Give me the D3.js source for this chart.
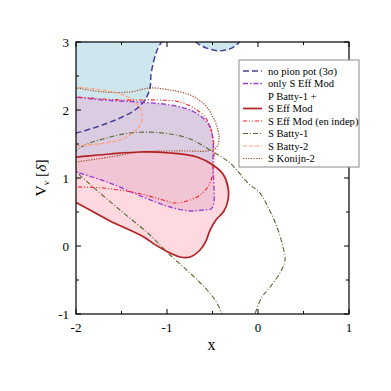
<!DOCTYPE html>
<html>
<head>
<meta charset="utf-8">
<script src="https://cdn.jsdelivr.net/npm/d3@7"></script>
<style>
  body { margin: 0; background: #fff; }
  text { font-family: "Liberation Serif", "DejaVu Serif", serif; }
</style>
</head>
<body>
<script>
// contour data, [x, Vv]
var noPion = [[-2.1,1.64],[-2.0,1.662],[-1.846,1.72],[-1.681,1.794],[-1.516,1.882],[-1.352,2.0],[-1.242,2.147],
  [-1.187,2.324],[-1.176,2.515],[-1.143,2.735],[-1.099,2.912],[-1.044,3.03],[-1.0,3.12]];
var noPionTop = [[-0.74,3.12],[-0.692,3.01],[-0.564,2.91],[-0.418,2.87],[-0.289,2.91],[-0.198,3.01],[-0.16,3.12]];
var onlyS = [[-2.1,2.2],[-2.0,2.19],[-1.703,2.147],[-1.33,2.118],[-0.967,2.074],[-0.747,2.0],[-0.604,1.882],
  [-0.527,1.75],[-0.495,1.559],[-0.495,1.162],[-0.487,0.971],[-0.487,0.62],[-0.516,0.544],[-0.604,0.529],
  [-0.747,0.515],[-0.967,0.574],[-1.264,0.721],[-1.626,0.926],[-1.989,1.088],[-2.1,1.15]];
var sEff = [[-2.1,1.3],[-1.989,1.309],[-1.626,1.353],[-1.297,1.382],[-0.967,1.368],[-0.67,1.309],[-0.495,1.191],
  [-0.385,1.059],[-0.33,0.868],[-0.33,0.676],[-0.374,0.515],[-0.462,0.382],[-0.527,0.235],[-0.571,0.074],
  [-0.637,-0.059],[-0.747,-0.162],[-0.857,-0.162],[-0.967,-0.103],[-1.132,0.02],[-1.264,0.14],[-1.626,0.368],
  [-1.989,0.632],[-2.1,0.7]];
var sEffEn = [[-2.1,2.2],[-1.989,2.19],[-1.484,2.147],[-1.11,2.147],[-0.857,2.118],[-0.67,2.0],[-0.56,1.853],
  [-0.495,1.603],[-0.484,1.265],[-0.505,1.015],[-0.56,0.853],[-0.67,0.721],[-0.824,0.647],[-0.912,0.632],
  [-1.044,0.676],[-1.33,0.779],[-1.703,0.853],[-1.989,0.868],[-2.1,0.87]];
var batty1 = [[-0.38,-1.05],[-0.396,-1.0],[-0.451,-0.838],[-0.56,-0.647],[-0.747,-0.397],[-0.967,-0.132],
  [-1.187,0.162],[-1.516,0.529],[-1.813,0.868],[-1.989,1.088],[-2.07,1.25],[-1.989,1.412],[-1.846,1.515],
  [-1.703,1.574],[-1.407,1.662],[-1.044,1.662],[-0.747,1.574],[-0.527,1.412],[-0.308,1.221],[-0.11,0.926],
  [0.022,0.779],[0.11,0.574],[0.209,0.279],[0.275,-0.015],[0.297,-0.206],[0.242,-0.397],[0.132,-0.603],
  [0.044,-0.75],[-0.033,-1.0],[-0.04,-1.05]];
var batty2 = [[-2.1,2.35],[-2.0,2.338],[-1.791,2.309],[-1.549,2.25],[-1.374,2.147],[-1.286,2.0],[-1.275,1.853],
  [-1.319,1.735],[-1.462,1.588],[-1.681,1.515],[-2.0,1.471],[-2.1,1.46]];
var konijn2 = [[-2.1,2.33],[-2.0,2.324],[-1.703,2.265],[-1.407,2.265],[-1.187,2.324],[-0.967,2.294],[-0.747,2.221],
  [-0.582,2.074],[-0.495,1.897],[-0.44,1.706],[-0.429,1.559],[-0.462,1.441],[-0.56,1.397],[-0.747,1.397],
  [-0.967,1.397],[-1.297,1.382],[-1.626,1.309],[-2.0,1.235],[-2.1,1.22]];

var xMajor = [-2, -1, 0, 1];
var yMajor = [-1, 0, 1, 2, 3];
var legendLabels = ["no pion pot (3\u03c3)", "only S Eff Mod", "P Batty-1 +", "S Eff Mod",
  "S Eff Mod (en indep)", "S Batty-1", "S Batty-2", "S Konijn-2"];

var W = 391, H = 391;
var m = {l: 76, t: 42, r: 42, b: 77};
var w = W - m.l - m.r, h = H - m.t - m.b;

var svg = d3.select("body").append("svg").attr("width", W).attr("height", H);

var x = d3.scaleLinear().domain([-2, 1]).range([0, w]);
var y = d3.scaleLinear().domain([-1, 3]).range([h, 0]);

svg.append("defs").append("clipPath").attr("id", "clip")
  .append("rect").attr("width", w).attr("height", h);

var g = svg.append("g").attr("transform", "translate(" + m.l + "," + m.t + ")");
var plot = g.append("g").attr("clip-path", "url(#clip)");

var line = d3.line().x(function(d){ return x(d[0]); }).y(function(d){ return y(d[1]); })
  .curve(d3.curveCatmullRom.alpha(0.5));

// fills
plot.append("path")
  .attr("d", line(noPion) + "L" + x(-2.2) + "," + y(3.2) + "L" + x(-2.2) + "," + y(1.6) + "Z")
  .style("fill", "#cee7ee");
plot.append("path").attr("d", line(noPionTop) + "Z").style("fill", "#cee7ee");
plot.append("path").attr("d", line(onlyS) + "Z").style("fill", "#dccce2");
plot.append("path").attr("d", line(sEff) + "Z").style("fill", "#ffc0cb").style("opacity", 0.6);

// contour lines
var styles = {
  noPion: {c: "#45409a", dash: "6,3", w: 1.5},
  onlyS: {c: "#9b3fd6", dash: "5,2,1.5,2", w: 1.4},
  sEff: {c: "#b22222", dash: null, w: 1.7},
  sEffEn: {c: "#ff1a1a", dash: "4,2,1,2,1,2", w: 1.1},
  batty1: {c: "#556b2f", dash: "5,2,1,2", w: 1.1},
  batty2: {c: "#ffa07a", dash: "4,2", w: 1.2},
  konijn2: {c: "#a0522d", dash: "1.3,1.3", w: 1.2}
};
function stroke(sel, s) {
  sel.style("fill", "none").style("stroke", s.c).style("stroke-width", s.w)
    .style("stroke-dasharray", s.dash);
}
plot.append("path").attr("d", line(batty1)).call(stroke, styles.batty1);
plot.append("path").attr("d", line(konijn2)).call(stroke, styles.konijn2);
plot.append("path").attr("d", line(batty2)).call(stroke, styles.batty2);
plot.append("path").attr("d", line(noPion)).call(stroke, styles.noPion);
plot.append("path").attr("d", line(noPionTop)).call(stroke, styles.noPion);
plot.append("path").attr("d", line(onlyS)).call(stroke, styles.onlyS);
plot.append("path").attr("d", line(sEffEn)).call(stroke, styles.sEffEn);
plot.append("path").attr("d", line(sEff)).call(stroke, styles.sEff);

// frame and ticks
g.append("rect").attr("width", w).attr("height", h)
  .style("fill", "none").style("stroke", "#000").style("stroke-width", 1.2);

var xMinor = d3.range(-1.5, 1, 1), yMinor = d3.range(-0.5, 3, 1);
function ticksX(vals, len) {
  vals.forEach(function(v){
    g.append("line").attr("x1", x(v)).attr("x2", x(v)).attr("y1", h).attr("y2", h - len).style("stroke", "#000");
    g.append("line").attr("x1", x(v)).attr("x2", x(v)).attr("y1", 0).attr("y2", len).style("stroke", "#000");
  });
}
function ticksY(vals, len) {
  vals.forEach(function(v){
    g.append("line").attr("x1", 0).attr("x2", len).attr("y1", y(v)).attr("y2", y(v)).style("stroke", "#000");
    g.append("line").attr("x1", w).attr("x2", w - len).attr("y1", y(v)).attr("y2", y(v)).style("stroke", "#000");
  });
}
ticksX(xMajor, 5); ticksX(xMinor, 3);
ticksY(yMajor, 5); ticksY(yMinor, 3);

g.selectAll(".xl").data(xMajor).enter().append("text")
  .attr("x", function(d){ return x(d); }).attr("y", h + 18)
  .attr("text-anchor", "middle").style("font-size", "13px")
  .text(function(d){ return d; });
g.selectAll(".yl").data(yMajor).enter().append("text")
  .attr("x", -7).attr("y", function(d){ return y(d) + 4.5; })
  .attr("text-anchor", "end").style("font-size", "13px")
  .text(function(d){ return d; });

g.append("text").attr("x", w / 2 - 1).attr("y", h + 36).attr("text-anchor", "middle")
  .style("font-size", "16px").text("x");

var yl = g.append("text").attr("transform", "translate(-30," + (h / 2) + ") rotate(-90)")
  .attr("text-anchor", "middle").style("font-size", "15.5px");
yl.append("tspan").text("V");
yl.append("tspan").attr("dy", 3).style("font-size", "9px").text("v");
yl.append("tspan").attr("dy", -3).text(" [");
yl.append("tspan").style("font-style", "italic").text("\u03b4");
yl.append("tspan").text("]");

// legend
var leg = svg.append("g").attr("transform", "translate(239,60)");
leg.append("rect").attr("width", 120).attr("height", 107)
  .style("fill", "#fff").style("stroke", "#8a8a8a").style("stroke-width", 1);
var legKeys = ["noPion", "onlyS", null, "sEff", "sEffEn", "batty1", "batty2", "konijn2"];
var rowY = [11, 23.5, 36, 48.5, 61, 73.5, 86, 98.5];
legKeys.forEach(function(k, i){
  if (k) {
    leg.append("line").attr("x1", 4).attr("x2", 23).attr("y1", rowY[i]).attr("y2", rowY[i])
      .call(stroke, styles[k]);
  }
  leg.append("text").attr("x", 29).attr("y", rowY[i] + 3.5).style("font-size", "10.6px")
    .text(legendLabels[i]);
});
</script>
</body>
</html>
